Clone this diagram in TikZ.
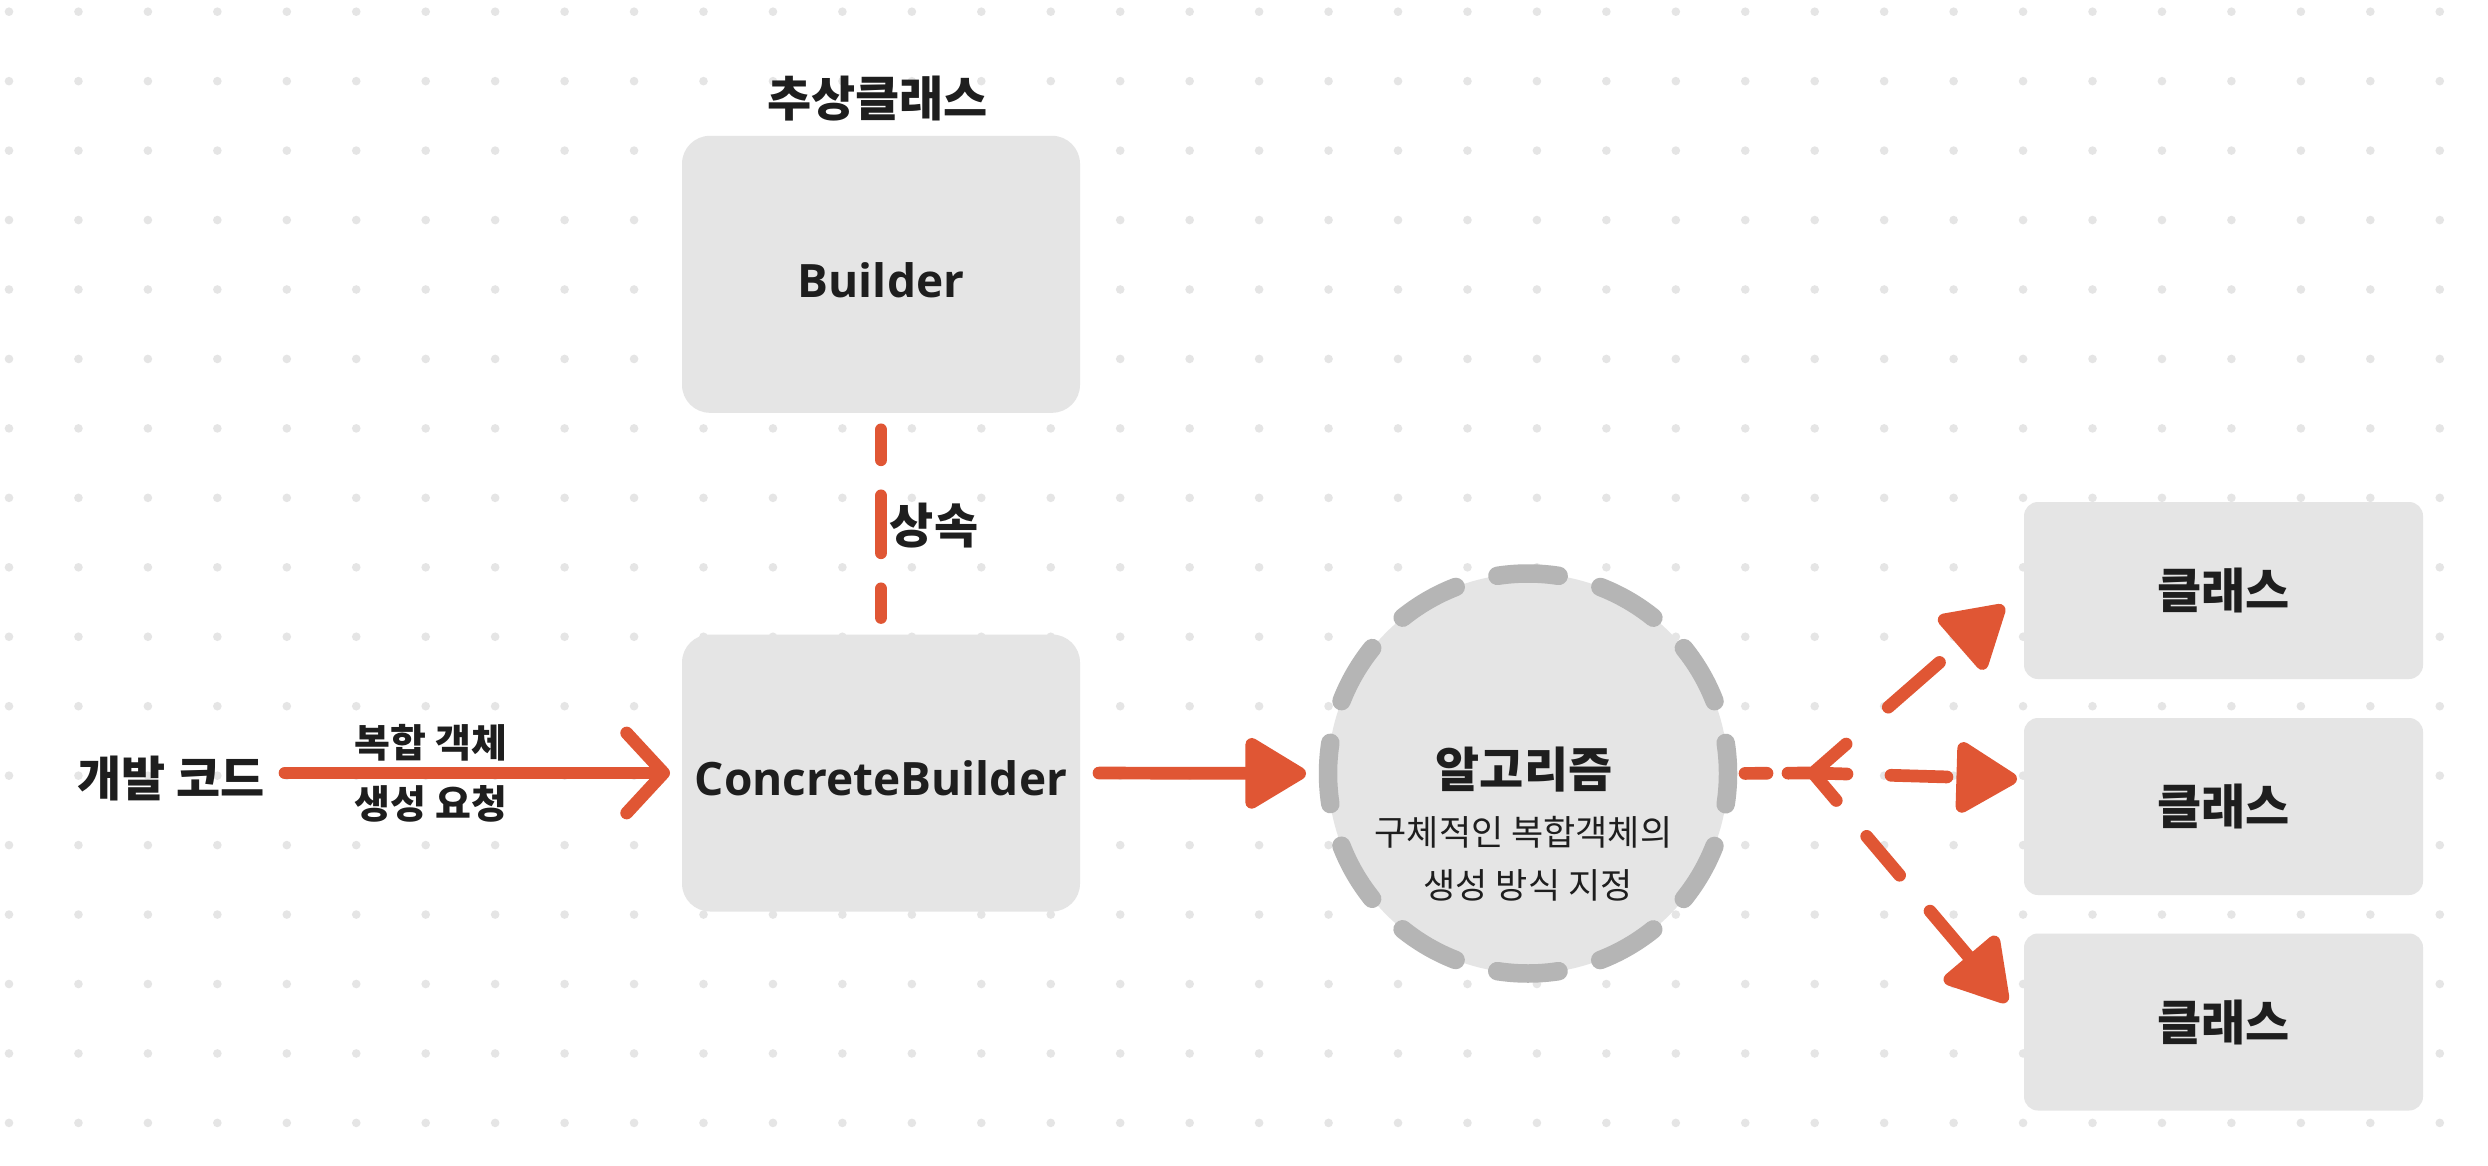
\documentclass[tikz,border=0pt]{standalone}
\usepackage{fontspec}
\setmainfont{Open Sans}
\newfontfamily\kr{Noto Sans CJK KR}
\usetikzlibrary{arrows.meta,calc}
\definecolor{accent}{HTML}{E05634}
\definecolor{boxgray}{HTML}{E5E5E5}
\definecolor{dotgray}{HTML}{E5E5E5}
\definecolor{ringgray}{HTML}{B5B5B5}
\definecolor{inkc}{HTML}{1E1E1E}
\begin{document}
\begin{tikzpicture}[x=1pt,y=-1pt,
  bigbox/.style={rectangle, rounded corners=28pt, fill=boxgray, minimum width=398pt,
    minimum height=277pt, inner sep=0pt, outer sep=0pt, text=inkc,
    font=\bfseries\fontsize{46pt}{52pt}\selectfont, text height=46pt},
  classbox/.style={rectangle, rounded corners=14pt, fill=boxgray, minimum width=399pt,
    minimum height=177pt, inner sep=0pt, outer sep=0pt, text=inkc,
    font=\kr\bfseries\fontsize{48pt}{56pt}\selectfont},
  krtitle/.style={text=inkc, font=\kr\bfseries\fontsize{48pt}{56pt}\selectfont, inner sep=0pt},
  krlabel/.style={text=inkc, font=\kr\bfseries\fontsize{39pt}{46pt}\selectfont, inner sep=0pt},
  krsub/.style={text=inkc, font=\kr\fontsize{35pt}{42pt}\selectfont, inner sep=0pt},
  conn/.style={draw=accent, line width=12.7pt, line cap=round, line join=round},
  head/.style={-{Triangle[length=67pt,width=77pt,round]}},
  barb/.style={-{Straight Barb[length=37pt,width=80pt,round]}},
]
\useasboundingbox (0,0) rectangle (2488,1166);
\fill[white] (0,0) rectangle (2488,1166);
% dot grid
\foreach \i in {0,...,35}{
  \foreach \j in {0,...,16}{
    \fill[dotgray] ({9+69.45*\i},{11.7+69.45*\j}) circle (4.3pt);
  }
}
% boxes
\node[bigbox] (builder) at (881,274.3) {Builder};
\node[bigbox] (concrete) at (881,773) {ConcreteBuilder};
\node[krtitle] (abstract) at (877.5,98.5) {추상클래스};
\node[krtitle] (inherit) at (934,526) {상속};
\node[krtitle] (dev) at (171,778) {개발 코드};
\node[krlabel] (req1) at (431,743) {복합 객체};
\node[krlabel] (req2) at (431,804) {생성 요청};
% algorithm circle
\node[circle, minimum size=400pt, inner sep=0pt, outer sep=0pt, fill=boxgray,
  draw=ringgray, line width=18.5pt, line cap=round,
  dash pattern=on 61.5pt off 43.22pt, dash phase=30.75pt] (algo) at (1528,773.5) {};
\node[krtitle] (algotitle) at (1524,770) {알고리즘};
\node[krsub] (sub1) at (1523.5,832.5) {구체적인 복합객체의};
\node[krsub] (sub2) at (1528,885.5) {생성 방식 지정};
% class boxes
\node[classbox] (class1) at (2223.5,590.5) {클래스};
\node[classbox] (class2) at (2223.5,806.5) {클래스};
\node[classbox] (class3) at (2223.5,1022) {클래스};
% connectors
\draw[conn, dash pattern=on 57pt off 36pt, dash phase=27pt, shorten <=17pt, shorten >=17pt]
  (builder.south) -- (concrete.north);
\draw[conn, barb, shorten <=20pt, shorten >=12pt] (dev.east |- concrete.west) -- (concrete.west);
\draw[conn, head, shorten <=19pt, shorten >=22pt] (concrete.east) -- (algo.west);
\coordinate (J) at (1813,773);
\draw[conn, dash pattern=on 22pt off 21pt, shorten <=17pt] (algo.east) -- (J);
\draw[conn, head, dash pattern=on 44pt off 56pt on 68pt off 80pt] (J) -- ($(class1.west)+(-20,15.5)$);
\draw[conn, head, dash pattern=on 34pt off 44pt on 56pt off 80pt] (J) -- ($(class2.west)+(-7,-27.5)$);
\draw[conn, head, dash pattern=on 36pt off 47pt on 51pt off 47pt on 100pt off 10pt] (J) -- ($(class3.west)+(-17,-20)$);
\end{tikzpicture}
\end{document}
